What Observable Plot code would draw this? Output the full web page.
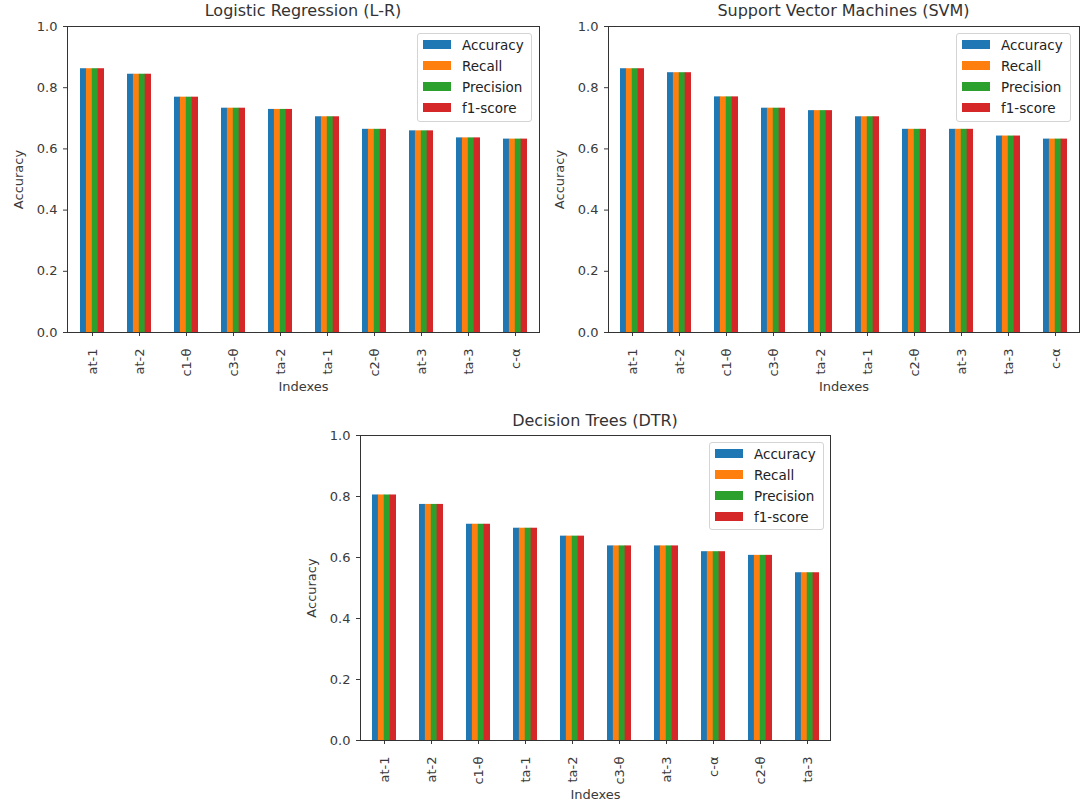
<!DOCTYPE html>
<html><head><meta charset="utf-8">
<script src="https://cdn.jsdelivr.net/npm/d3@7"></script>
<script src="https://cdn.jsdelivr.net/npm/@observablehq/plot@0.6"></script>
<style>
body{margin:0;background:#fff;font-family:"DejaVu Sans",sans-serif;}
#page{position:relative;width:1084px;height:807px;overflow:hidden;background:#fff;}
.panel{position:absolute;}
.title{position:absolute;font-size:16px;line-height:16px;color:#333;white-space:nowrap;transform:translateX(-50%);}
.legend{position:absolute;border:1px solid #d4d4d4;border-radius:3px;background:rgba(255,255,255,0.85);box-sizing:border-box;}
.legend .row{position:absolute;left:0;height:14px;line-height:14px;font-size:13.5px;color:#222;white-space:nowrap;}
.legend .sw{position:absolute;left:5px;top:2px;width:28px;height:9px;}
.legend .lb{position:absolute;left:44px;top:0;}
</style></head>
<body><div id="page"></div>
<script>
const metrics = ["Accuracy", "Recall", "Precision", "f1-score"];
const colors = ["#1f77b4", "#ff7f0e", "#2ca02c", "#d62728"];

// Logistic Regression (L-R)
const lrCategories = ["at-1", "at-2", "c1-θ", "c3-θ", "ta-2", "ta-1", "c2-θ", "at-3", "ta-3", "c-α"];
const lrAccuracy  = [0.862, 0.844, 0.769, 0.733, 0.729, 0.705, 0.664, 0.659, 0.636, 0.632];
const lrRecall    = [0.862, 0.844, 0.769, 0.733, 0.729, 0.705, 0.664, 0.659, 0.636, 0.632];
const lrPrecision = [0.862, 0.844, 0.769, 0.733, 0.729, 0.705, 0.664, 0.659, 0.636, 0.632];
const lrF1        = [0.862, 0.844, 0.769, 0.733, 0.729, 0.705, 0.664, 0.659, 0.636, 0.632];

// Support Vector Machines (SVM)
const svmCategories = ["at-1", "at-2", "c1-θ", "c3-θ", "ta-2", "ta-1", "c2-θ", "at-3", "ta-3", "c-α"];
const svmAccuracy  = [0.862, 0.849, 0.770, 0.733, 0.725, 0.705, 0.664, 0.664, 0.642, 0.632];
const svmRecall    = [0.862, 0.849, 0.770, 0.733, 0.725, 0.705, 0.664, 0.664, 0.642, 0.632];
const svmPrecision = [0.862, 0.849, 0.770, 0.733, 0.725, 0.705, 0.664, 0.664, 0.642, 0.632];
const svmF1        = [0.862, 0.849, 0.770, 0.733, 0.725, 0.705, 0.664, 0.664, 0.642, 0.632];

// Decision Trees (DTR)
const dtrCategories = ["at-1", "at-2", "c1-θ", "ta-1", "ta-2", "c3-θ", "at-3", "c-α", "c2-θ", "ta-3"];
const dtrAccuracy  = [0.805, 0.774, 0.709, 0.696, 0.670, 0.638, 0.638, 0.619, 0.607, 0.550];
const dtrRecall    = [0.805, 0.774, 0.709, 0.696, 0.670, 0.638, 0.638, 0.619, 0.607, 0.550];
const dtrPrecision = [0.805, 0.774, 0.709, 0.696, 0.670, 0.638, 0.638, 0.619, 0.607, 0.550];
const dtrF1        = [0.805, 0.774, 0.709, 0.696, 0.670, 0.638, 0.638, 0.619, 0.607, 0.550];

const page = document.getElementById("page");

function panel(cfg) {
  const {title, categories, series, left, top, width, height, mL, mR, mT, mB, legend, titleTop} = cfg;
  const plotW = width - mL - mR;
  const band = plotW / categories.length * 0.5;
  const sub = band / metrics.length;
  const chart = Plot.plot({
    width, height,
    marginLeft: mL, marginRight: mR, marginTop: mT, marginBottom: mB,
    style: {fontFamily: "DejaVu Sans", fontSize: "13px", color: "#3a3a3a", background: "white", overflow: "visible"},
    x: {domain: categories, paddingInner: 0.5, paddingOuter: 0.25, align: 0.5,
        tickRotate: -90, tickSize: 4, tickPadding: 12,
        label: "Indexes", labelAnchor: "center", labelOffset: 58, labelArrow: "none"},
    y: {domain: [0, 1], ticks: 5, tickFormat: ".1f", tickSize: 4, tickPadding: 6,
        label: "Accuracy", labelAnchor: "center", labelOffset: 54, labelArrow: "none"},
    marks: [
      ...metrics.map((m, k) => Plot.barY(categories, {
        x: d => d,
        y1: 0,
        y2: (d, i) => series[k][i],
        fill: colors[k],
        insetLeft: k * sub,
        insetRight: (metrics.length - 1 - k) * sub
      })),
      Plot.frame({stroke: "#333", strokeWidth: 1})
    ]
  });
  const wrap = document.createElement("div");
  wrap.className = "panel";
  wrap.style.left = left + "px";
  wrap.style.top = top + "px";
  wrap.appendChild(chart);
  page.appendChild(wrap);

  const t = document.createElement("div");
  t.className = "title";
  t.textContent = title;
  t.style.left = (left + mL + plotW / 2) + "px";
  t.style.top = titleTop + "px";
  page.appendChild(t);

  const lg = d3.select(page).append("div").attr("class", "legend")
    .style("left", legend[0] + "px").style("top", legend[1] + "px")
    .style("width", legend[2] + "px").style("height", legend[3] + "px");
  const rows = lg.selectAll(".row").data(metrics).join("div").attr("class", "row")
    .style("top", (d, i) => (4 + i * 21) + "px");
  rows.append("div").attr("class", "sw").style("background", (d, i) => colors[i]);
  rows.append("div").attr("class", "lb").text(d => d);
}

panel({
  title: "Logistic Regression (L-R)", categories: lrCategories,
  series: [lrAccuracy, lrRecall, lrPrecision, lrF1],
  left: 0, top: 0, width: 545, height: 400, mL: 67, mR: 6, mT: 26, mB: 68,
  legend: [417, 33, 115, 89], titleTop: 3
});
panel({
  title: "Support Vector Machines (SVM)", categories: svmCategories,
  series: [svmAccuracy, svmRecall, svmPrecision, svmF1],
  left: 545, top: 0, width: 539, height: 400, mL: 63, mR: 5, mT: 26, mB: 68,
  legend: [956, 33, 115, 89], titleTop: 3
});
panel({
  title: "Decision Trees (DTR)", categories: dtrCategories,
  series: [dtrAccuracy, dtrRecall, dtrPrecision, dtrF1],
  left: 290, top: 400, width: 545, height: 407, mL: 70, mR: 5, mT: 35, mB: 67,
  legend: [709, 442, 115, 88], titleTop: 413
});
</script>
</body></html>
